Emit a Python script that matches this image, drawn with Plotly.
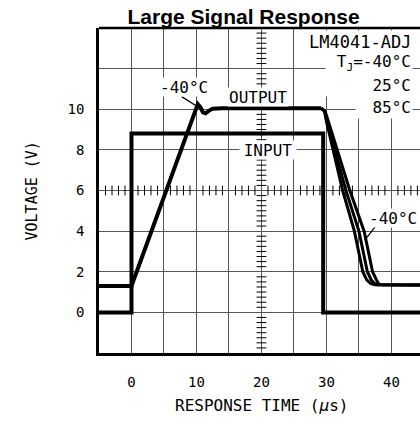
import numpy as np
import plotly.graph_objects as go

# ---------------- data ----------------
x_ticks = [0, 10, 20, 30, 40]
y_ticks = [0, 2, 4, 6, 8, 10]

input_t = [-5, 0, 0, 29.5, 29.5, 44.4]
input_v = [0, 0, 8.8, 8.8, 0, 0]

rise_t = [-5, 0, 10.2, 10.6, 11.0, 11.4, 11.9, 12.5, 14.0, 29.2]
rise_v = [1.3, 1.3, 10.25, 10.1, 9.85, 9.8, 9.92, 10.03, 10.05, 10.05]

fall_v = [10.05, 9.9, 9.4, 6.0, 4.0, 2.0, 1.6, 1.42, 1.36, 1.35]
fall_t_85 = [29.2, 29.7, 30.0, 32.5, 34.3, 35.6, 36.2, 36.8, 37.4, 44.4]
fall_t_25 = [29.2, 29.75, 30.1, 33.0, 35.0, 36.3, 36.9, 37.4, 37.9, 44.4]
fall_t_m40 = [29.2, 29.8, 30.3, 33.6, 35.8, 37.1, 37.7, 38.0, 38.4, 44.4]

# graticule (oscilloscope crosshair) minor ticks
cross_x = 20
cross_y = 6
cross_ticks_y = [v for v in np.arange(-2, 14.01, 0.25) if abs(v / 2 - round(v / 2)) > 1e-6]
cross_ticks_x = [v for v in range(-5, 45) if v % 5 != 0]

FONT = "DejaVu Sans Mono"
BLACK = "black"
GRID = "#555555"

fig = go.Figure()

# crosshair ticks
fig.add_trace(go.Scatter(x=[cross_x] * len(cross_ticks_y), y=cross_ticks_y, mode="markers",
                         marker=dict(symbol="line-ew", size=7, line=dict(width=1, color=BLACK)),
                         hoverinfo="skip", showlegend=False))
fig.add_trace(go.Scatter(x=cross_ticks_x, y=[cross_y] * len(cross_ticks_x), mode="markers",
                         marker=dict(symbol="line-ns", size=7, line=dict(width=1, color=BLACK)),
                         hoverinfo="skip", showlegend=False))

# signals
fig.add_trace(go.Scatter(x=input_t, y=input_v, mode="lines",
                         line=dict(color=BLACK, width=4), showlegend=False))
for ft in (fall_t_85, fall_t_25, fall_t_m40):
    fig.add_trace(go.Scatter(x=ft, y=fall_v, mode="lines",
                             line=dict(color=BLACK, width=3), showlegend=False))
fig.add_trace(go.Scatter(x=rise_t, y=rise_v, mode="lines",
                         line=dict(color=BLACK, width=4), showlegend=False))

lab = dict(font=dict(family=FONT, size=16, color=BLACK), showarrow=False,
           bgcolor="white", borderpad=1, xref="x", yref="y")

annotations = [
    dict(text="LM4041-ADJ", x=35.23, y=13.31, font=dict(family=FONT, size=17, color=BLACK),
         showarrow=False, bgcolor="white", borderpad=1, xref="x", yref="y", height=20),
    dict(text="T<sub>J</sub>=-40°C", x=43.3, y=12.27, xanchor="right", align="right", width=84, height=22, **lab),
    dict(text="25°C", x=43.3, y=11.2, xanchor="right", align="right", width=84, height=20, **lab),
    dict(text="85°C", x=43.3, y=10.11, xanchor="right", align="right", width=54, height=20, **lab),
    dict(text="-40°C", x=8.08, y=11.1, height=16, **lab),
    dict(text="OUTPUT", x=19.46, y=10.62, height=16, **lab),
    dict(text="INPUT", x=21.08, y=8.0, height=16, width=54, **lab),
    dict(text="-40°C", x=40.23, y=4.65, height=16, **lab),
    dict(text="VOLTAGE (V)", x=-0.243, y=0.50, xref="paper", yref="paper", textangle=-90,
         showarrow=False, font=dict(family=FONT, size=15, color=BLACK)),
    dict(text="RESPONSE TIME (<i>µ</i>s)", x=0.505, y=-0.197, xref="paper", yref="paper",
         showarrow=False, font=dict(family=FONT, size=16, color=BLACK)),
]

shapes = [
    dict(type="line", xref="paper", yref="paper", x0=0, x1=1, y0=1, y1=1,
         line=dict(color=BLACK, width=2.5), layer="above"),
    dict(type="line", xref="x", yref="y", x0=7.72, y0=10.62, x1=10.0, y1=10.16,
         line=dict(color=BLACK, width=1.3), layer="above"),
    dict(type="line", xref="x", yref="y", x0=37.7, y0=4.30, x1=35.9, y1=3.56,
         line=dict(color=BLACK, width=1.3), layer="above"),
]

fig.update_layout(
    width=420, height=431,
    margin=dict(l=99, r=0, t=28, b=78),
    paper_bgcolor="white", plot_bgcolor="white",
    title=dict(text="<b>Large Signal Response</b>", x=0.58, xanchor="center",
               y=1 - 17 / 431, yanchor="middle", yref="container",
               font=dict(family="Liberation Sans", size=21, color=BLACK)),
    annotations=annotations, shapes=shapes,
    showlegend=False,
)
fig.update_xaxes(range=[-5, 44.4], tickvals=x_ticks, ticks="", showgrid=True,
                 gridcolor=GRID, gridwidth=1.2, zeroline=False,
                 showline=True, linecolor=BLACK, linewidth=2.5,
                 tickfont=dict(family=FONT, size=14, color=BLACK), ticklabelstandoff=14,
                 minor=dict(dtick=5, tick0=0, showgrid=True, gridcolor=GRID, gridwidth=1.2, ticks=""),
                 fixedrange=True)
fig.update_yaxes(range=[-2, 14], tickvals=y_ticks, ticks="", showgrid=True,
                 gridcolor=GRID, gridwidth=1.2, zeroline=False,
                 showline=True, linecolor=BLACK, linewidth=2.5,
                 tickfont=dict(family=FONT, size=14, color=BLACK), ticklabelstandoff=9,
                 minor=dict(dtick=2, tick0=0, showgrid=True, gridcolor=GRID, gridwidth=1.2, ticks=""),
                 fixedrange=True)

fig.write_html("out.html", config={"displayModeBar": False},
               post_script="document.body.style.margin='0';document.body.style.overflow='hidden';")
